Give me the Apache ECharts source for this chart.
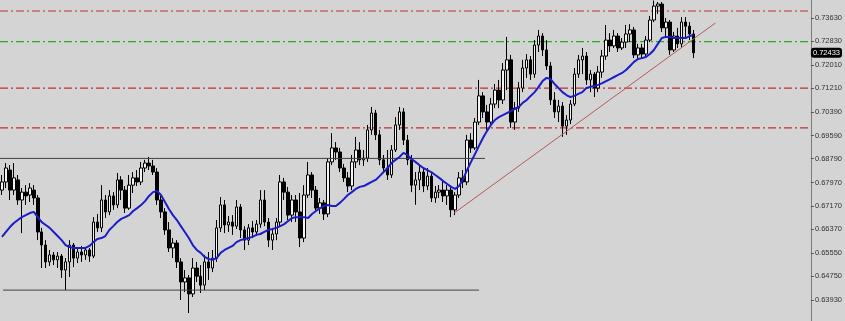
<!DOCTYPE html>
<html><head><meta charset="utf-8">
<script src="https://cdn.jsdelivr.net/npm/echarts@6/dist/echarts.min.js"></script>
<style>html,body{margin:0;padding:0;background:#d4d4d4}#c{width:845px;height:321px}</style>
</head><body><div id="c"></div>
<script>
// ---- data (bars in chronological order) ----
const opens = [
0.6771,0.6799,0.6840,0.6771,0.6806,0.6737,0.6764,0.6754,0.6771,0.6744,
0.6627,0.6582,0.6524,0.6548,0.6531,0.6544,0.6496,0.6524,0.6582,0.6537,
0.6558,0.6548,0.6565,0.6544,0.6661,0.6641,0.6737,0.6696,0.6751,0.6720,
0.6806,0.6771,0.6709,0.6788,0.6813,0.6799,0.6847,0.6864,0.6854,0.6833,
0.6737,0.6696,0.6634,0.6572,0.6589,0.6524,0.6455,0.6469,0.6414,0.6503,
0.6475,0.6444,0.6524,0.6503,0.6537,0.6641,0.6720,0.6651,0.6661,0.6647,
0.6713,0.6634,0.6599,0.6641,0.6627,0.6654,0.6737,0.6661,0.6599,0.6620,
0.6661,0.6799,0.6764,0.6685,0.6737,0.6696,0.6606,0.6754,0.6823,0.6771,
0.6709,0.6727,0.6689,0.6868,0.6916,0.6902,0.6847,0.6813,0.6785,0.6868,
0.6909,0.6875,0.6881,0.6978,0.7036,0.6961,0.6875,0.6847,0.6823,0.6909,
0.6995,0.7040,0.6943,0.6875,0.6788,0.6806,0.6833,0.6785,0.6819,0.6744,
0.6764,0.6771,0.6751,0.6771,0.6703,0.6754,0.6813,0.6799,0.6943,0.6916,
0.7005,0.7095,0.7040,0.7005,0.7067,0.7115,0.7081,0.7184,0.7219,0.7005,
0.7053,0.7122,0.7191,0.7219,0.7170,0.7270,0.7301,0.7253,0.7198,0.7081,
0.7040,0.7060,0.6991,0.7012,0.7067,0.7170,0.7219,0.7232,0.7150,0.7170,
0.7122,0.7177,0.7232,0.7287,0.7267,0.7301,0.7260,0.7280,0.7308,0.7322,
0.7236,0.7260,0.7239,0.7287,0.7356,0.7404,0.7411,0.7329,0.7349,0.7253,
0.7301,0.7274,0.7349,0.7335,0.7308];
const closes = [
0.6799,0.6847,0.6771,0.6813,0.6737,0.6764,0.6751,0.6778,0.6744,0.6627,
0.6582,0.6524,0.6548,0.6531,0.6544,0.6496,0.6524,0.6582,0.6537,0.6558,
0.6548,0.6565,0.6544,0.6661,0.6641,0.6737,0.6696,0.6751,0.6720,0.6806,
0.6771,0.6709,0.6788,0.6813,0.6799,0.6847,0.6864,0.6854,0.6833,0.6737,
0.6696,0.6634,0.6572,0.6589,0.6524,0.6455,0.6469,0.6414,0.6503,0.6475,
0.6444,0.6524,0.6503,0.6537,0.6641,0.6720,0.6651,0.6661,0.6647,0.6713,
0.6634,0.6599,0.6641,0.6627,0.6654,0.6737,0.6661,0.6599,0.6620,0.6661,
0.6799,0.6764,0.6685,0.6737,0.6696,0.6606,0.6754,0.6823,0.6771,0.6709,
0.6727,0.6689,0.6868,0.6916,0.6902,0.6847,0.6813,0.6785,0.6868,0.6909,
0.6875,0.6881,0.6978,0.7036,0.6961,0.6875,0.6847,0.6823,0.6909,0.6995,
0.7040,0.6943,0.6875,0.6788,0.6806,0.6833,0.6785,0.6819,0.6744,0.6764,
0.6771,0.6751,0.6771,0.6703,0.6754,0.6813,0.6799,0.6943,0.6916,0.7005,
0.7095,0.7040,0.7005,0.7067,0.7115,0.7081,0.7184,0.7219,0.7005,0.7053,
0.7122,0.7191,0.7219,0.7170,0.7270,0.7301,0.7253,0.7198,0.7081,0.7040,
0.7060,0.6991,0.7012,0.7067,0.7170,0.7219,0.7232,0.7150,0.7170,0.7122,
0.7177,0.7232,0.7287,0.7267,0.7301,0.7260,0.7280,0.7308,0.7322,0.7236,
0.7260,0.7239,0.7287,0.7356,0.7404,0.7411,0.7329,0.7349,0.7253,0.7301,
0.7274,0.7349,0.7335,0.7308,0.72433];
const highs = [
0.6823,0.6864,0.6857,0.6864,0.6823,0.6778,0.6788,0.6795,0.6788,0.6754,
0.6641,0.6599,0.6565,0.6558,0.6558,0.6551,0.6537,0.6599,0.6589,0.6572,
0.6579,0.6575,0.6572,0.6678,0.6689,0.6788,0.6754,0.6771,0.6764,0.6830,
0.6819,0.6785,0.6823,0.6833,0.6840,0.6868,0.6875,0.6885,0.6875,0.6847,
0.6751,0.6709,0.6661,0.6606,0.6599,0.6537,0.6496,0.6479,0.6537,0.6524,
0.6513,0.6548,0.6558,0.6565,0.6668,0.6747,0.6737,0.6682,0.6685,0.6737,
0.6723,0.6647,0.6654,0.6665,0.6668,0.6771,0.6771,0.6675,0.6634,0.6675,
0.6823,0.6813,0.6782,0.6754,0.6754,0.6761,0.6788,0.6868,0.6833,0.6785,
0.6744,0.6737,0.6881,0.6967,0.6936,0.6916,0.6861,0.6833,0.6892,0.6954,
0.6936,0.6909,0.6995,0.7057,0.7047,0.6978,0.6892,0.6909,0.6926,0.7022,
0.7057,0.7053,0.6961,0.6892,0.6833,0.6854,0.6847,0.6847,0.6833,0.6785,
0.6788,0.6806,0.6788,0.6785,0.6764,0.6833,0.6840,0.6961,0.6967,0.7019,
0.7150,0.7108,0.7064,0.7088,0.7136,0.7150,0.7208,0.7298,0.7236,0.7074,
0.7143,0.7219,0.7239,0.7232,0.7287,0.7322,0.7311,0.7287,0.7212,0.7108,
0.7081,0.7074,0.7029,0.7081,0.7191,0.7236,0.7260,0.7246,0.7184,0.7177,
0.7198,0.7253,0.7339,0.7311,0.7322,0.7311,0.7294,0.7339,0.7342,0.7332,
0.7274,0.7274,0.7301,0.7370,0.7423,0.7418,0.7418,0.7363,0.7356,0.7315,
0.7329,0.7366,0.7366,0.7349,0.7322];
const lows = [
0.6754,0.6778,0.6737,0.6754,0.6720,0.6623,0.6720,0.6730,0.6720,0.6599,
0.6503,0.6503,0.6510,0.6513,0.6503,0.6469,0.6427,0.6472,0.6506,0.6520,
0.6524,0.6531,0.6524,0.6537,0.6627,0.6627,0.6675,0.6685,0.6703,0.6709,
0.6737,0.6692,0.6703,0.6761,0.6785,0.6788,0.6833,0.6840,0.6823,0.6720,
0.6675,0.6617,0.6558,0.6537,0.6503,0.6393,0.6420,0.6348,0.6403,0.6455,
0.6417,0.6427,0.6462,0.6489,0.6524,0.6627,0.6623,0.6627,0.6617,0.6637,
0.6606,0.6565,0.6582,0.6606,0.6613,0.6641,0.6647,0.6575,0.6565,0.6599,
0.6647,0.6737,0.6668,0.6661,0.6661,0.6575,0.6592,0.6744,0.6744,0.6696,
0.6689,0.6668,0.6678,0.6857,0.6875,0.6833,0.6799,0.6764,0.6771,0.6847,
0.6857,0.6854,0.6868,0.6961,0.6943,0.6857,0.6833,0.6806,0.6813,0.6902,
0.6978,0.6926,0.6857,0.6764,0.6720,0.6771,0.6764,0.6771,0.6730,0.6727,
0.6744,0.6730,0.6720,0.6678,0.6685,0.6744,0.6778,0.6788,0.6899,0.6909,
0.6995,0.7019,0.6978,0.6991,0.7053,0.7053,0.7067,0.7115,0.6985,0.6978,
0.7040,0.7108,0.7157,0.7150,0.7157,0.7246,0.7232,0.7184,0.7064,0.7019,
0.7005,0.6954,0.6961,0.6998,0.7060,0.7157,0.7170,0.7133,0.7108,0.7091,
0.7108,0.7157,0.7219,0.7246,0.7260,0.7246,0.7253,0.7260,0.7280,0.7225,
0.7225,0.7225,0.7232,0.7280,0.7349,0.7377,0.7315,0.7294,0.7236,0.7246,
0.7260,0.7260,0.7294,0.7287,0.7225];
const maValues = [
0.6610,0.6627,0.6644,0.6658,0.6668,0.6678,0.6685,0.6692,0.6696,0.6678,
0.6661,0.6651,0.6641,0.6627,0.6613,0.6599,0.6582,0.6575,0.6572,0.6572,
0.6572,0.6572,0.6579,0.6592,0.6603,0.6606,0.6613,0.6634,0.6647,0.6661,
0.6672,0.6678,0.6685,0.6699,0.6709,0.6720,0.6733,0.6751,0.6764,0.6768,
0.6754,0.6730,0.6706,0.6685,0.6668,0.6647,0.6627,0.6606,0.6582,0.6565,
0.6555,0.6541,0.6534,0.6531,0.6537,0.6555,0.6565,0.6572,0.6579,0.6592,
0.6599,0.6603,0.6606,0.6610,0.6617,0.6620,0.6627,0.6634,0.6637,0.6641,
0.6647,0.6654,0.6665,0.6675,0.6678,0.6678,0.6678,0.6675,0.6689,0.6699,
0.6709,0.6716,0.6720,0.6716,0.6716,0.6727,0.6740,0.6754,0.6764,0.6775,
0.6782,0.6785,0.6792,0.6799,0.6806,0.6819,0.6833,0.6847,0.6864,0.6875,
0.6885,0.6899,0.6892,0.6878,0.6868,0.6857,0.6847,0.6840,0.6833,0.6823,
0.6813,0.6802,0.6792,0.6782,0.6775,0.6785,0.6809,0.6840,0.6868,0.6895,
0.6923,0.6950,0.6974,0.6995,0.7012,0.7022,0.7029,0.7036,0.7043,0.7050,
0.7057,0.7071,0.7081,0.7095,0.7108,0.7126,0.7146,0.7157,0.7153,0.7136,
0.7122,0.7108,0.7098,0.7091,0.7095,0.7102,0.7108,0.7122,0.7126,0.7129,
0.7133,0.7139,0.7146,0.7153,0.7160,0.7167,0.7174,0.7184,0.7198,0.7212,
0.7222,0.7225,0.7229,0.7239,0.7253,0.7274,0.7294,0.7298,0.7298,0.7294,
0.7294,0.7294,0.7294,0.7301,0.7305];
const priceTicks = [0.73630,0.72830,0.72010,0.71210,0.70390,0.69590,0.68790,0.67970,0.67170,0.66370,0.65550,0.64750,0.63930];
const lastPrice = 0.72433;
const redLevels = [0.7387, 0.7122, 0.6985];
const greenLevel = 0.7282;
const upperBox = [[-0.5, 0.6880], [121.5, 0.6880]];   // [bar index, price]
const lowerBox = [[0.25, 0.6427], [120, 0.6427]];
const trendLine = [[113.75, 0.6692], [179.5, 0.7346]];
const slotCount = 204;   // bar slots across the window (right side empty)
const priceMin = 0.63207, priceMax = 0.74249;

// ---- chart ----
const slots = Array.from({length: slotCount}, (_, i) => String(i));
const candleData = opens.map((o, i) => [o, closes[i], lows[i], highs[i]]);
const xFrom = -0.5, xTo = slotCount - 0.5;
const levelSeries = (v, color, z) => ({
  type: 'line', xAxisIndex: 1, data: [[xFrom, v], [xTo, v]], showSymbol: false, silent: true, z: z,
  color: color,
  lineStyle: {color: color, type: [8, 3, 2, 3], width: 1.2, opacity: 1}
});
const chart = echarts.init(document.getElementById('c'), null, {renderer: 'canvas'});
chart.setOption({
  animation: false,
  backgroundColor: '#d4d4d4',
  grid: {left: 0, right: 31, top: 0, bottom: 0, containLabel: false},
  xAxis: [
    {type: 'category', data: slots, boundaryGap: true, show: false},
    {type: 'value', min: xFrom, max: xTo, show: false}
  ],
  yAxis: {
    type: 'value', position: 'right', min: priceMin, max: priceMax,
    splitLine: {show: false},
    axisLine: {show: true, onZero: false, lineStyle: {color: '#7c7c7c', width: 1}},
    axisTick: {show: true, customValues: priceTicks, length: 3, lineStyle: {color: '#555'}},
    axisLabel: {customValues: priceTicks, formatter: v => v.toFixed(5), fontSize: 7.5,
      fontFamily: 'Liberation Sans', color: '#333', margin: 4},
    axisPointer: {show: true, status: 'show', value: lastPrice, triggerTooltip: false,
      type: 'line', lineStyle: {opacity: 0},
      label: {show: true, backgroundColor: '#000', color: '#fff', fontSize: 7.5,
        fontFamily: 'Liberation Sans', padding: [1, 2], margin: 0,
        formatter: p => Number(p.value).toFixed(5)}}
  },
  series: [
    ...redLevels.map(v => levelSeries(v, '#c03030', 1)),
    levelSeries(greenLevel, '#22b022', 1),
    {
      type: 'candlestick', data: candleData, barWidth: 3, silent: true, z: 2,
      itemStyle: {color: '#f4f4f4', color0: '#000000', borderColor: '#000000', borderColor0: '#000000', borderWidth: 1}
    },
    {
      type: 'line', data: maValues, showSymbol: false, silent: true, z: 4,
      lineStyle: {color: '#1c1cc8', width: 2}
    },
    {type: 'line', xAxisIndex: 1, data: upperBox, showSymbol: false, silent: true, z: 3, lineStyle: {color: '#404040', width: 1}},
    {type: 'line', xAxisIndex: 1, data: lowerBox, showSymbol: false, silent: true, z: 3, lineStyle: {color: '#404040', width: 1}},
    {type: 'line', xAxisIndex: 1, data: trendLine, showSymbol: false, silent: true, z: 3, lineStyle: {color: '#b85a5a', width: 1}}
  ]
});
</script></body></html>
